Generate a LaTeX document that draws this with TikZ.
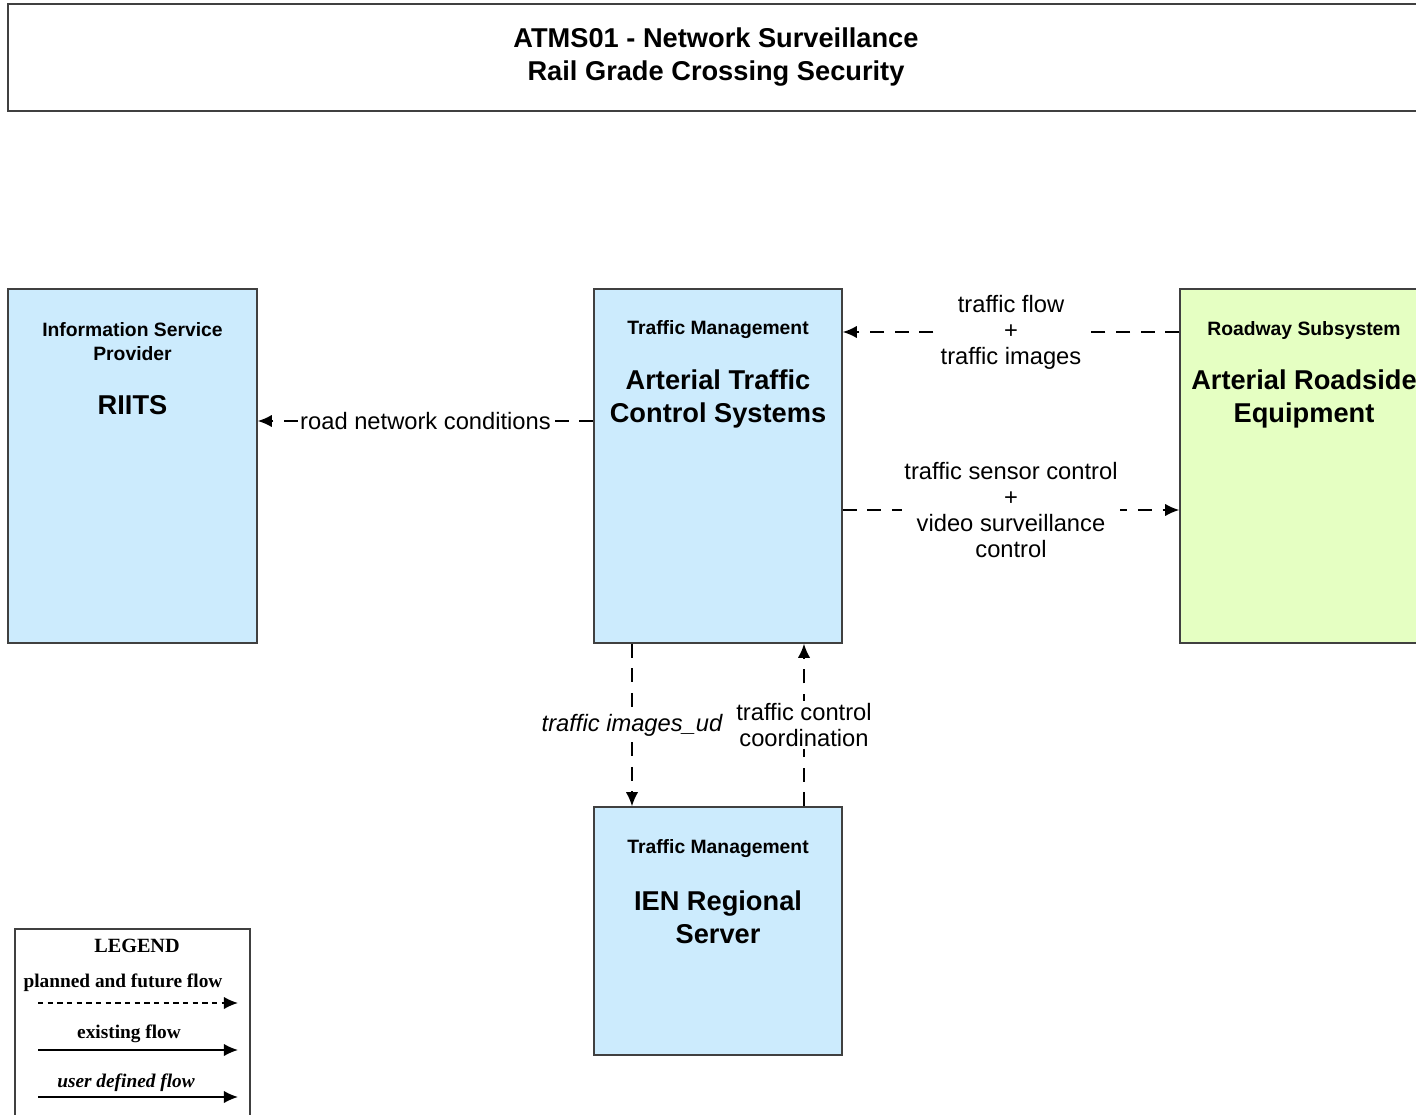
\documentclass[tikz,border=0pt]{standalone}
\usepackage{fontspec}
\setmainfont{Liberation Sans}
\newfontfamily\legendfont{Liberation Serif}
\usetikzlibrary{arrows.meta,positioning}
\definecolor{isblue}{RGB}{204,235,253}
\definecolor{rsgreen}{RGB}{229,255,194}
\definecolor{edgegray}{RGB}{64,64,64}

\begin{document}
\begin{tikzpicture}[x=0.02cm, y=-0.02cm,
    sysbox/.style={draw=edgegray, line width=0.9pt, inner sep=0pt, minimum width=4.96cm},
    cattext/.style={font=\fontsize{11}{13.7}\selectfont\bfseries, align=center},
    nametext/.style={font=\fontsize{15.5}{18.8}\selectfont\bfseries, align=center},
    flow/.style={line width=0.9pt, dash pattern=on 8pt off 6pt, -{Latex[length=8pt,width=7pt]}},
    flowlbl/.style={fill=white, inner sep=1.5pt, font=\fontsize{13.5}{14.8}\selectfont, align=center},
    legtext/.style={font=\legendfont\fontsize{11}{12}\selectfont\bfseries},
    legarrow/.style={line width=0.9pt, -{Latex[length=8pt,width=7pt]}}]
    \useasboundingbox (0,0) rectangle (1416,1115);

    % Title
    \node[draw=edgegray, line width=0.9pt, minimum width=28.32cm, minimum height=2.14cm,
          font=\fontsize{15.5}{18.8}\selectfont\bfseries, align=center] (title) at (716,57.5)
          {ATMS01 - Network Surveillance\\Rail Grade Crossing Security};

    % The systems
    \node[sysbox, fill=isblue, minimum width=4.98cm, minimum height=7.08cm] (isp) at (132.5,466) {};
    \node[sysbox, fill=isblue, minimum height=7.08cm] (atcs) at (718,466) {};
    \node[sysbox, fill=rsgreen, minimum height=7.08cm] (are) at (1304,466) {};
    \node[sysbox, fill=isblue, minimum height=4.96cm] (ien) at (718,931) {};

    \node[cattext] (ispcat) at (132.5,342) {Information Service\\Provider};
    \node[nametext] (ispname) at (132.5,405) {RIITS};
    \node[cattext] (atcscat) at (718,330) {Traffic Management};
    \node[nametext] (atcsname) at (718,398.5) {Arterial Traffic\\Control Systems};
    \node[cattext] (arecat) at (1304,330) {Roadway Subsystem};
    \node[nametext] (arename) at (1304,398.5) {Arterial Roadside\\Equipment};
    \node[cattext] (iencat) at (718,849) {Traffic Management};
    \node[nametext] (ienname) at (718,917.5) {IEN Regional\\Server};

    % Flows
    \draw[flow] (atcs.west |- 0,421) -- node[flowlbl] (rnc) {road network conditions} (isp.east |- 0,421);
    \draw[flow] (are.west |- 0,332) -- node[flowlbl] (tfti) {traffic flow\\+\\traffic images} (atcs.east |- 0,332);
    \draw[flow] (atcs.east |- 0,510) -- node[flowlbl] (tsc) {traffic sensor control\\+\\video surveillance\\control} (are.west |- 0,510);
    \draw[flow] (atcs.south -| 632,0) -- node[flowlbl, font=\fontsize{13.5}{14.8}\selectfont\itshape] (tiud) {traffic images\_ud} (ien.north -| 632,0);
    \draw[flow] (ien.north -| 804,0) -- node[flowlbl] (tcc) {traffic control\\coordination} (atcs.south -| 804,0);

    % Legend
    \node[draw=edgegray, line width=0.9pt, fill=white, minimum width=4.7cm, minimum height=3.92cm] (legend) at (132.5,1027) {};
    \node[legtext, font=\legendfont\fontsize{11.5}{12}\selectfont\bfseries] (legtitle) at (137,946) {LEGEND};
    \node[legtext] (legplan) at (123,983) {planned and future flow};
    \node[legtext] (legexist) at (129,1034) {existing flow};
    \node[legtext, font=\legendfont\fontsize{11}{12}\selectfont\bfseries\itshape] (leguser) at (126,1083) {user defined flow};
    \coordinate (p1) at (38,1003);  \coordinate (p2) at (238,1003);
    \coordinate (e1) at (38,1050);  \coordinate (e2) at (238,1050);
    \coordinate (u1) at (38,1097);  \coordinate (u2) at (238,1097);
    \draw[legarrow, dash pattern=on 3pt off 2.5pt] (p1) -- (p2);
    \draw[legarrow] (e1) -- (e2);
    \draw[legarrow] (u1) -- (u2);
\end{tikzpicture}
\end{document}
